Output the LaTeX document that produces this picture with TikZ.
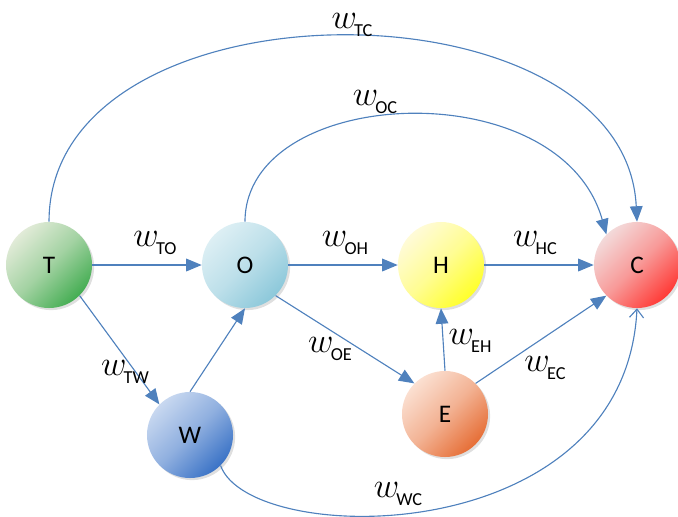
\documentclass[tikz,border=0pt]{standalone}
\usepackage{fontspec}
\setmainfont{Carlito}
\usetikzlibrary{arrows.meta,shadows}

\definecolor{edgeblue}{HTML}{4F81BD}
\definecolor{tLight}{HTML}{E2EBD8}\definecolor{tDark}{HTML}{44AD52}
\definecolor{oLight}{HTML}{DDEFF4}\definecolor{oDark}{HTML}{8CC8DA}
\definecolor{hLight}{HTML}{FFFBD8}\definecolor{hDark}{HTML}{FFFF2A}
\definecolor{cLight}{HTML}{F3DADA}\definecolor{cDark}{HTML}{FF3A36}
\definecolor{wLight}{HTML}{C8D8F0}\definecolor{wDark}{HTML}{3A72C6}
\definecolor{eLight}{HTML}{FBE0D2}\definecolor{eDark}{HTML}{E66E36}

\newcommand{\wlab}[1]{{\fontsize{27}{27}\selectfont$w$}\kern-2pt\raisebox{-6pt}{\fontsize{13}{13}\selectfont#1}}

\begin{document}
\begin{tikzpicture}[
    x=0.025cm, y=-0.025cm,
    ball/.style 2 args={circle, minimum size=2.15cm, inner sep=0pt,
        top color=#1, bottom color=#2, middle color=#1!60!#2, shading angle=45,
        drop shadow={shadow xshift=1.5pt, shadow yshift=-1.5pt, opacity=0.25},
        font=\fontsize{18}{18}\selectfont},
    wlabel/.style={inner sep=0pt},
    edge/.style={draw=edgeblue, line width=0.8pt, -{Triangle[length=11pt,width=9pt]}},
    openedge/.style={draw=edgeblue, line width=0.8pt, -{Straight Barb[length=6pt,width=10pt]}}
]
\useasboundingbox (0,0) rectangle (678,516);

\node [ball={tLight}{tDark}] (T) at (49,265) {T};
\node [ball={oLight}{oDark}] (O) at (245,265) {O};
\node [ball={hLight}{hDark}] (H) at (441,265) {H};
\node [ball={cLight}{cDark}] (C) at (637,265) {C};
\node [ball={wLight}{wDark}] (W) at (190,435) {W};
\node [ball={eLight}{eDark}] (E) at (445,414) {E};

\draw [edge] (T.east) -- (O.west);
\draw [edge] (O.east) -- (H.west);
\draw [edge] (H.east) -- (C.west);
\draw [edge] (T.south east) -- (W.north west);
\draw [edge] (W.north) -- (O.south);
\draw [edge] (O.south east) -- (E.north west);
\draw [edge] (E.north) -- (H.south);
\draw [edge] (E.north east) -- (C.south west);
\draw [edge] (T.north) .. controls (49,-25) and (625,-25) .. (C.north);
\draw [edge] (O.north) .. controls (245,85) and (560,70) .. (C.north west);
\draw [openedge] (W.south east) .. controls (250,548) and (625,552) .. (C.south);

\node [wlabel] (lTC) at (352,25) {\wlab{TC}};
\node [wlabel] (lOC) at (375,102) {\wlab{OC}};
\node [wlabel] (lTO) at (155,243) {\wlab{TO}};
\node [wlabel] (lOH) at (345,243) {\wlab{OH}};
\node [wlabel] (lHC) at (535,243) {\wlab{HC}};
\node [wlabel] (lTW) at (125,372) {\wlab{TW}};
\node [wlabel] (lOE) at (330,349) {\wlab{OE}};
\node [wlabel] (lEH) at (470,341) {\wlab{EH}};
\node [wlabel] (lEC) at (545,368) {\wlab{EC}};
\node [wlabel] (lWC) at (398,494) {\wlab{WC}};

\end{tikzpicture}
\end{document}
